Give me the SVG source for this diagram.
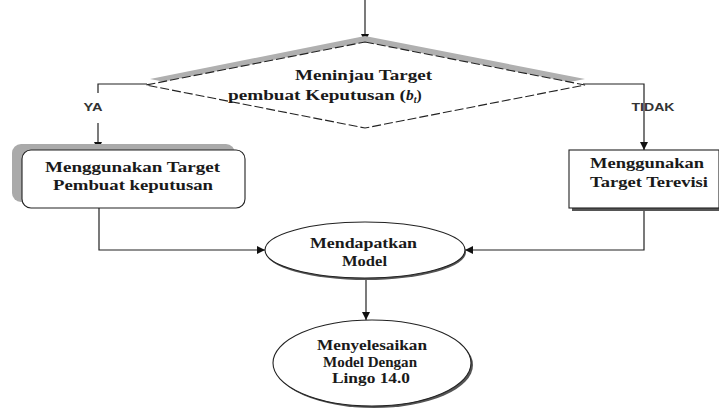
<svg xmlns="http://www.w3.org/2000/svg" width="719" height="410" viewBox="0 0 719 410">
<defs>
<style>
.t{font-family:"Liberation Serif","Times New Roman",serif;font-weight:bold;font-size:15.5px;fill:#1a1a1a}
.l{font-family:"Liberation Sans",Arial,sans-serif;font-weight:bold;font-size:10px;fill:#333}
.c{fill:none;stroke:#222;stroke-width:1.2}
</style>
<marker id="ah" viewBox="0 0 10 10" refX="10" refY="5" markerWidth="8" markerHeight="8" markerUnits="userSpaceOnUse" orient="auto">
<path d="M0,0 L10,5 L0,10 z" fill="#111"/>
</marker>
</defs>
<rect width="719" height="410" fill="#fff"/>

<g id="connectors">
<line class="c" x1="365" y1="0" x2="365" y2="42" marker-end="url(#ah)"/>
<polyline class="c" points="147,84 98,84 98,93"/>
<line class="c" x1="98" y1="123" x2="98" y2="150" marker-end="url(#ah)"/>
<polyline class="c" points="583,84 644,84 644,150" marker-end="url(#ah)"/>
<polyline class="c" points="99,208 99,250 265,250" marker-end="url(#ah)"/>
<polyline class="c" points="644,208 644,250 465,250" marker-end="url(#ah)"/>
<line class="c" x1="366" y1="279" x2="366" y2="320" marker-end="url(#ah)"/>
<text class="l" x="93" y="111" text-anchor="middle" textLength="19" lengthAdjust="spacingAndGlyphs">YA</text>
<text class="l" x="653" y="111" text-anchor="middle" textLength="43" lengthAdjust="spacingAndGlyphs">TIDAK</text>
</g>

<g id="decision">
<polygon points="365,36 585,79 365,122 150,79" fill="#b0b0b0"/>
<polygon points="365,42 585,85 365,128 146,85" fill="#fff" stroke="#222" stroke-width="1.1" stroke-dasharray="9,3"/>
<text class="t" x="295" y="80" textLength="137" lengthAdjust="spacingAndGlyphs">Meninjau Target</text>
<text class="t" x="228" y="100"><tspan textLength="178" lengthAdjust="spacingAndGlyphs">pembuat Keputusan (</tspan><tspan font-style="italic">b</tspan><tspan font-style="italic" font-size="10" dy="3">t</tspan><tspan dy="-3">)</tspan></text>
</g>

<g id="node-ya">
<rect x="12" y="144" width="223" height="58" rx="9" fill="#aaa"/>
<rect x="22" y="150" width="223" height="58" rx="9" fill="#fff" stroke="#222" stroke-width="1.1"/>
<text class="t" x="45" y="172" textLength="175" lengthAdjust="spacingAndGlyphs">Menggunakan Target</text>
<text class="t" x="53" y="190" textLength="160" lengthAdjust="spacingAndGlyphs">Pembuat keputusan</text>
</g>

<g id="node-tidak">
<rect x="572" y="153" width="150" height="58" fill="#555"/>
<rect x="569" y="150" width="150" height="58" fill="#fff" stroke="#222" stroke-width="1.1"/>
<text class="t" x="590" y="168" textLength="114" lengthAdjust="spacingAndGlyphs">Menggunakan</text>
<text class="t" x="590" y="187" textLength="118" lengthAdjust="spacingAndGlyphs">Target Terevisi</text>
</g>

<g id="node-model">
<ellipse cx="366" cy="252" rx="100" ry="28" fill="#555"/>
<ellipse cx="365" cy="250" rx="100" ry="28" fill="#fff" stroke="#222" stroke-width="1.1"/>
<text class="t" x="310" y="248" textLength="107" lengthAdjust="spacingAndGlyphs">Mendapatkan</text>
<text class="t" x="342" y="266" textLength="45" lengthAdjust="spacingAndGlyphs">Model</text>
</g>

<g id="node-lingo">
<ellipse cx="374" cy="365" rx="99" ry="43" fill="#555"/>
<ellipse cx="372" cy="363" rx="99" ry="43" fill="#fff" stroke="#222" stroke-width="1.1"/>
<text class="t" x="317" y="350" textLength="110" lengthAdjust="spacingAndGlyphs">Menyelesaikan</text>
<text class="t" x="323" y="367" textLength="94" lengthAdjust="spacingAndGlyphs">Model Dengan</text>
<text class="t" x="332" y="383" textLength="78" lengthAdjust="spacingAndGlyphs">Lingo 14.0</text>
</g>
</svg>
